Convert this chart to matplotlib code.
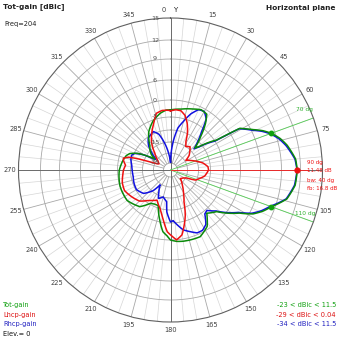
import numpy as np
import matplotlib
matplotlib.use("Agg")
import matplotlib.pyplot as plt

# ---------------- data ----------------
tot_theta = [0, 10, 20, 27, 33, 37, 42, 48, 51, 54, 57, 58, 59, 61, 64, 67, 70, 74, 78, 85, 90,
             97, 104, 110, 114, 118, 122, 126, 132, 140, 147, 156, 164, 170, 175, 180, 183, 187,
             192, 199, 205, 211, 220, 235, 252, 270, 282, 288, 292, 297, 301, 305, 309, 315, 320,
             330, 340, 350, 356]
tot_db = [-2.9, -2.4, -1.5, -0.7, -1.0, -3.5, -8.0, -13.0, -11.0, -7.5, -4.4, -1.0, 3.3, 4.5, 6.3,
          7.5, 8.48, 9.5, 10.3, 11.3, 11.48, 11.3, 10.4, 8.48, 7.6, 6.5, 3.4, 1.1, -2.3, -4.0,
          -0.8, 0.9, 0.8, 0.7, 0.5, 0.0, -1.2, -2.3, -5.6, -11.0, -11.0, -10.5, -7.0, -5.0, -5.0,
          -5.7, -6.8, -7.5, -8.5, -11.4, -16.0, -23.0, -18.0, -14.5, -13.3, -8.6, -5.5, -3.6, -2.9]

lhcp_theta = [0, 5, 10, 15, 20, 25, 28, 33, 40, 46, 52, 58, 65, 72, 78, 85, 90, 95, 100, 106, 112,
              116, 122, 131, 142, 150, 157, 162, 166, 170, 175, 178, 183, 187, 191, 195, 199, 204,
              210, 216, 225, 235, 246, 255, 265, 270, 276, 281, 284, 287, 289, 291, 294, 298, 305,
              310, 317, 325, 333, 340, 346, 352, 358]
lhcp_db = [-3.2, -2.8, -2.9, -4.0, -6.5, -10.0, -13.0, -15.0, -14.0, -16.0, -19.0, -24.0, -20.0,
           -15.0, -12.8, -11.0, -10.8, -11.5, -12.2, -14.0, -16.0, -24.0, -27.0, -29.0, -23.0,
           -17.0, -12.3, -7.0, -3.9, -1.2, 0.04, -0.9, -2.4, -5.0, -7.9, -10.0, -11.3, -12.9,
           -12.0, -11.0, -8.5, -7.3, -6.0, -6.2, -7.0, -7.3, -8.0, -7.0, -6.7, -8.5, -12.4, -19.0,
           -27.0, -29.0, -27.0, -24.0, -19.6, -13.0, -9.5, -6.5, -3.4, -2.9, -3.0]

rhcp_theta = [0, 3, 6, 10, 15, 20, 25, 30, 35, 39, 44, 48, 51, 54, 57, 58, 59, 61, 64, 67, 70, 74,
              78, 85, 90, 97, 104, 110, 114, 118, 122, 126, 132, 138, 142, 147, 152, 157, 162, 168,
              172, 177, 180, 185, 187, 195, 203, 208, 215, 220, 229, 240, 250, 260, 270, 277, 285,
              291, 295, 300, 303, 307, 312, 318, 325, 336, 342, 348, 354, 358]
rhcp_db = [-34.0, -22.0, -14.0, -9.0, -6.0, -3.0, -1.0, -0.7, -2.3, -6.4, -10.5, -13.5, -11.5,
           -8.0, -5.0, -1.5, 3.0, 4.3, 6.1, 7.3, 8.3, 9.3, 10.1, 11.2, 11.45, 11.2, 10.3, 8.3, 7.4,
           6.3, 3.0, 0.8, -2.6, -4.6, -4.2, -1.5, -0.5, -0.5, -1.5, -2.6, -4.0, -5.9, -5.4, -9.2,
           -13.4, -15.1, -13.8, -18.0, -24.0, -16.0, -11.8, -10.3, -10.5, -10.9, -10.7, -10.4,
           -9.6, -9.4, -10.3, -14.3, -22.0, -24.0, -18.0, -13.0, -10.5, -9.2, -11.0, -16.0, -26.0,
           -32.0]

ring_db = [-35, -25, -15, -10, -5, 0, 6, 9, 12, 15]
ring_labels = ['15', '12', '9', '6', '0', '-5', '-15', '-35']
ring_label_db = [15, 12, 9, 6, 0, -5, -15, -35]
angle_ticks = [0, 15, 30, 45, 60, 75, 105, 120, 135, 150, 165, 180, 195, 210, 225, 240, 255,
               270, 285, 300, 315, 330, 345]

max_dir = 90
max_gain = 11.48
bw_edges = [70, 110]
bw_level = 8.48

# ---------------- radial scale (knots of the MMANA-like grid) ----------------
SCALE_DB = [-45, -35, -25, -15, -10, -5, 0, 6, 9, 12, 15]
SCALE_R = [0, 7, 17, 28, 40, 53, 70, 90, 111, 130, 152]


def fwd(x):
    return np.interp(np.asarray(x, float), SCALE_DB, SCALE_R)


def inv(r):
    return np.interp(np.asarray(r, float), SCALE_R, SCALE_DB)


W = H = 339
fig = plt.figure(figsize=(W / 100, H / 100), dpi=100)
fig.patch.set_facecolor('white')
cx, cy, R = 170.5, 170.0, 152.0
ax = fig.add_axes([(cx - R) / W, (H - cy - R) / H, 2 * R / W, 2 * R / H], projection='polar')
ax.set_theta_zero_location('N')
ax.set_theta_direction(-1)
ax.set_rscale('function', functions=(fwd, inv))
ax.set_rlim(-45, 15)
ax.set_xticks([])
ax.set_yticks([])
ax.grid(False)
ax.spines['polar'].set_color('#606060')
ax.spines['polar'].set_linewidth(0.8)

tt = np.linspace(0, 2 * np.pi, 721)
ring_col = '#a8a8a8'
for v in ring_db[:-1]:
    ax.plot(tt, np.full_like(tt, v), color=ring_col, lw=0.6, zorder=1)

for a in range(0, 360, 5):
    th = np.deg2rad(a)
    if a % 90 == 0:
        continue
    if a % 15 == 0:
        ax.plot([th, th], [-35, 15], color=ring_col, lw=0.6, zorder=1)
    else:
        ax.plot([th, th], [-15, 15], color='#d6d6d6', lw=0.5, zorder=0.9)

for a in (0, 90, 180, 270):
    th = np.deg2rad(a)
    ax.plot([th, th], [-45, 15], color='#6a6a6a', lw=0.7, zorder=1.2)

# beamwidth lines and max direction line
for a in bw_edges:
    th = np.deg2rad(a)
    ax.plot([th, th], [-45, 15], color='#55cc55', lw=0.6, zorder=2)
ax.plot([np.deg2rad(max_dir)] * 2, [-45, 13.0], color='#ff2020', lw=0.6, zorder=2)


def closed(theta, db):
    t = np.deg2rad(list(theta) + [theta[0] + 360])
    return t, list(db) + [db[0]]


def smooth_plot(theta, db, **kw):
    line, = ax.plot(*closed(theta, db), **kw)
    line.get_path()._interpolation_steps = 12
    line.recache_always()
    return line


smooth_plot(rhcp_theta, rhcp_db, color='#1010e0', lw=1.1, zorder=3)
smooth_plot(tot_theta, tot_db, color='#0a8a0a', lw=1.1, zorder=4)
smooth_plot(lhcp_theta, lhcp_db, color='#ee1010', lw=1.1, zorder=5)

ax.plot(np.deg2rad(bw_edges), [bw_level] * 2, 'o', color='#10a010', ms=3.2, zorder=6)
ax.plot([np.deg2rad(max_dir)], [max_gain], 'o', color='#ee1010', ms=3.5, zorder=6)

# radial labels
for lab, v in zip(ring_labels, ring_label_db):
    ax.annotate(lab, xy=(0, v), xytext=(-11.2, 0), textcoords='offset points',
                ha='center', va='center', fontsize=4.6, color='#505050', zorder=7,
                annotation_clip=False)

# angle labels
for a in angle_ticks:
    th = np.deg2rad(a)
    off = 6.0
    dx = off * np.sin(th)
    dy = off * np.cos(th)
    if a == 0:
        dx -= 5.0
    ax.annotate(str(a), xy=(th, 15), xytext=(dx, dy), textcoords='offset points',
                ha='center', va='center', fontsize=4.8, color='#404040',
                annotation_clip=False)


def ftext(x, y, s, **kw):
    fig.text(x / W, 1 - y / H, s, **kw)


ftext(175, 10, 'Y', fontsize=5, color='#202020', ha='center', va='center')
ftext(3, 7, 'Tot-gain [dBic]', fontsize=5.3, fontweight='bold', color='#202020', va='center')
ftext(4, 24, 'Freq=204', fontsize=4.8, color='#202020', va='center')
ftext(335, 8, 'Horizontal plane', fontsize=5.3, fontweight='bold', color='#202020',
      va='center', ha='right')

ftext(3, 305, 'Tot-gain', fontsize=4.8, color='#10a010', va='center')
ftext(3, 315, 'Lhcp-gain', fontsize=4.8, color='#dd1010', va='center')
ftext(3, 324, 'Rhcp-gain', fontsize=4.8, color='#2020c0', va='center')
ftext(3, 334, 'Elev.= 0', fontsize=4.8, color='#101010', va='center')

ftext(336, 305, '-23 < dBic < 11.5', fontsize=4.8, color='#10a010', va='center', ha='right')
ftext(336, 315, '-29 < dBic < 0.04', fontsize=4.8, color='#dd1010', va='center', ha='right')
ftext(336, 324, '-34 < dBic < 11.5', fontsize=4.8, color='#2020c0', va='center', ha='right')

ftext(307, 162, '90 dg', fontsize=4.0, color='#ee1010', va='center')
ftext(307, 171, '11.48 dB', fontsize=4.0, color='#ee1010', va='center')
ftext(307, 180, 'bw: 40 dg', fontsize=4.0, color='#ee1010', va='center')
ftext(307, 189, 'fb: 16.8 dB', fontsize=4.0, color='#ee1010', va='center')
ftext(313, 110, '70 dg', fontsize=4.2, color='#30b030', va='center', ha='right')
ftext(315, 213, '110 dg', fontsize=4.2, color='#30b030', va='center', ha='right')

fig.savefig('out.png', dpi=100, facecolor='white')
